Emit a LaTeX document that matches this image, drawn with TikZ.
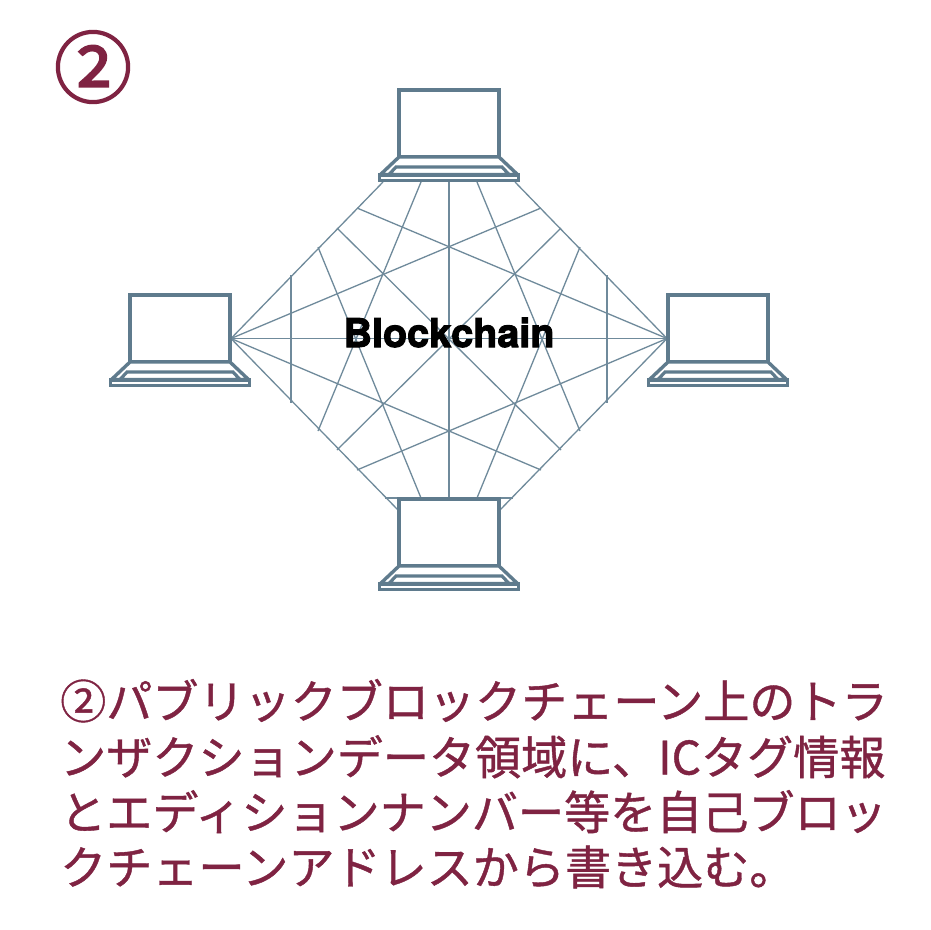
\documentclass[tikz,border=0pt]{standalone}
\usepackage{fontspec}
\setmainfont{TeX Gyre Heros}
\newfontfamily\jpfont[FakeBold=0.9]{Noto Sans CJK JP}
\newfontfamily\numfont[FakeBold=2.2]{Noto Sans CJK JP}
\newfontfamily\chainfont[FakeBold=2.6]{TeX Gyre Heros Bold}
\definecolor{wine}{HTML}{7F2342}
\definecolor{lap}{HTML}{5F7B8D}
\definecolor{mesh}{HTML}{6F8A9B}
\tikzset{
  meshline/.style={draw=mesh,line width=1.3pt},
  bodytext/.style={anchor=base west,inner sep=0pt,text=wine,font=\jpfont\fontsize{46.1}{46}\selectfont},
  laptop/.pic={
    \draw[draw=lap,line width=3.6pt,fill=white,line join=miter] (-50,0) rectangle (50,67);
    \draw[draw=lap,line width=3.4pt,fill=white,line join=bevel] (-50,67) -- (50,67) -- (68.5,84.5) -- (-68.5,84.5) -- cycle;
    \draw[draw=lap,line width=3.2pt,fill=white,line join=miter] (-53,77) -- (53,77) -- (60,84.5) -- (-60,84.5) -- cycle;
    \draw[draw=lap,line width=3.2pt,fill=white,line join=miter] (-69.5,85) rectangle (69.5,90.5);
  }
}
\begin{document}
\begin{tikzpicture}[x=1pt,y=-1pt]
\useasboundingbox (0,0) rectangle (930,930);
\fill[white] (0,0) rectangle (930,930);
\coordinate (L) at (231,338.5);
\coordinate (R) at (667,338.5);
\coordinate (ta) at (383,182);
\coordinate (tb) at (421,182);
\coordinate (tc) at (449,182);
\coordinate (td) at (477,182);
\coordinate (te) at (515,182);
\coordinate (ba) at (398,510);
\coordinate (bb) at (421,498);
\coordinate (bc) at (449,498);
\coordinate (bd) at (477,498);
\coordinate (be) at (500,510);
\coordinate (bl) at (385,498);
\coordinate (br) at (513,498);
\coordinate (ul1) at (291,275);
\coordinate (ul2) at (318,247);
\coordinate (ul3) at (337,228);
\coordinate (ul4) at (357,208);
\coordinate (ur1) at (607,275);
\coordinate (ur2) at (580,247);
\coordinate (ur3) at (561,228);
\coordinate (ur4) at (541,208);
\coordinate (dl1) at (291,403);
\coordinate (dl2) at (318,431);
\coordinate (dl3) at (337,450);
\coordinate (dl4) at (357,470);
\coordinate (dr1) at (607,403);
\coordinate (dr2) at (580,431);
\coordinate (dr3) at (561,450);
\coordinate (dr4) at (541,470);
\draw[meshline] (L) -- (ta);
\draw[meshline] (L) -- (ba);
\draw[meshline] (R) -- (te);
\draw[meshline] (R) -- (be);
\draw[meshline] (L) -- (R);
\draw[meshline] (tc) -- (bc);
\draw[meshline] (ul1) -- (dl1);
\draw[meshline] (ur1) -- (dr1);
\draw[meshline] (L) -- (ur4);
\draw[meshline] (L) -- (dr4);
\draw[meshline] (R) -- (ul4);
\draw[meshline] (R) -- (dl4);
\draw[meshline] (tb) -- (dl2);
\draw[meshline] (td) -- (dr2);
\draw[meshline] (bb) -- (ul2);
\draw[meshline] (bd) -- (ur2);
\draw[meshline] (ul3) -- (dr3);
\draw[meshline] (ur3) -- (dl3);
\draw[meshline] (bl) -- (br);
\pic at (449,90) {laptop};
\pic at (180,295) {laptop};
\pic at (718,295) {laptop};
\pic at (449,499) {laptop};
\node[inner sep=0pt,anchor=base,text=black,font=\chainfont\fontsize{39.5}{40}\selectfont] (chain) at (449,347) {Blockchain};
\node[inner sep=0pt,anchor=center,text=wine,font=\numfont\fontsize{78}{78}\selectfont] (num) at (93,67) {②};
\node[bodytext] (l1) at (60,718.5) {②パブリックブロックチェーン上のトラ};
\node[bodytext] (l2) at (60,774.5) {ンザクションデータ領域に、ICタグ情報};
\node[bodytext] (l3) at (60,829.5) {とエディションナンバー等を自己ブロッ};
\node[bodytext] (l4) at (60,884.5) {クチェーンアドレスから書き込む。};
\end{tikzpicture}
\end{document}
